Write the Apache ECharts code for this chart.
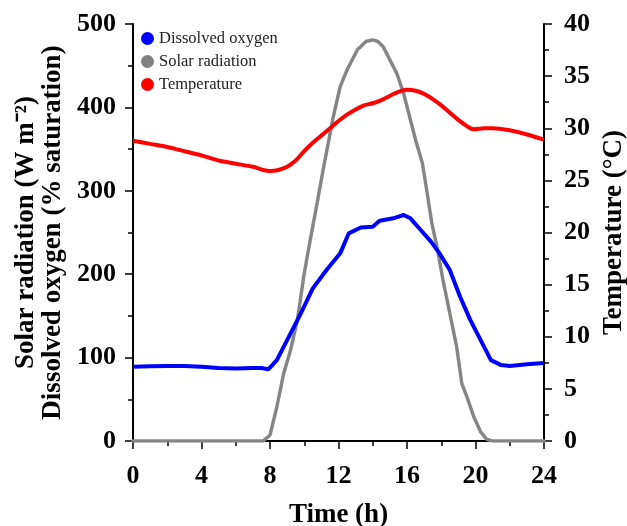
<!DOCTYPE html>
<html>
<head>
<meta charset="utf-8">
<script src="https://cdn.jsdelivr.net/npm/echarts@6/dist/echarts.min.js"></script>
<style>
  html, body { margin: 0; padding: 0; background: #fff; }
  #chart { width: 627px; height: 526px; }
</style>
</head>
<body>
<div id="chart"></div>
<script>
// values
const doTime = [0, 1, 2, 3, 4, 5, 6, 7, 7.5, 7.9, 8.4, 9, 9.8, 10.5, 11.3, 12.1, 12.6, 13.3, 14, 14.4, 15.2, 15.8, 16.2, 16.8, 17.4, 17.9, 18.5, 19.1, 19.7, 20.3, 20.9, 21.5, 22, 23, 24];
const doValues = [89, 89.5, 90, 90, 89, 87.5, 87, 87.5, 87.5, 86, 97, 121, 153, 183, 205, 225, 249, 256, 257, 264, 267, 271, 267, 253, 239, 225, 205, 173, 145, 121, 97, 91, 90, 92, 93.5];

const solarTime = [0, 4, 7.6, 8.0, 8.4, 8.8, 9.2, 9.6, 10.0, 10.35, 10.75, 11.1, 11.4, 11.7, 12.1, 12.5, 13.1, 13.6, 14.0, 14.3, 14.6, 15.0, 15.4, 15.8, 16.2, 16.5, 16.9, 17.15, 17.45, 17.75, 18.1, 18.5, 18.9, 19.2, 19.5, 19.9, 20.3, 20.65, 21, 24];
const solarValues = [0, 0, 0, 7, 41, 81, 109, 145, 201, 241, 285, 325, 357, 389, 425, 445, 469, 479, 481, 479, 473, 457, 441, 417, 385, 361, 333, 301, 261, 233, 193, 153, 113, 69, 53, 29, 11, 2, 0, 0];

const tempTime = [0, 1, 2, 3, 4, 5, 6, 7, 7.6, 8, 8.5, 9, 9.5, 10, 10.5, 11, 11.5, 12, 12.5, 13, 13.5, 14, 14.5, 15, 15.5, 16, 16.5, 17, 17.5, 18, 18.5, 19, 19.5, 19.9, 20.5, 21, 22, 23, 24];
const tempValues = [28.8, 28.5, 28.2, 27.8, 27.4, 26.9, 26.6, 26.3, 26.0, 25.9, 26.0, 26.3, 26.9, 27.8, 28.6, 29.3, 30.0, 30.7, 31.3, 31.8, 32.2, 32.4, 32.7, 33.1, 33.5, 33.7, 33.6, 33.3, 32.8, 32.2, 31.5, 30.8, 30.2, 29.9, 30.0, 30.0, 29.8, 29.4, 28.9];

const seriesNames = ['Dissolved oxygen', 'Solar radiation', 'Temperature'];

function pairs(xs, ys) {
    return xs.map((x, i) => [x, ys[i]]);
}

const FONT = '"Liberation Serif", "Times New Roman", serif';
const black = '#000';

const axisBase = {
    axisLine: { show: true, lineStyle: { color: black, width: 2 } },
    axisTick: { show: true, inside: false, length: 8, lineStyle: { color: black, width: 1.5 } },
    minorTick: { show: true, splitNumber: 2, length: 5, lineStyle: { color: black, width: 1.5 } },
    splitLine: { show: false },
    axisLabel: { color: black, fontFamily: FONT, fontWeight: 'bold', fontSize: 26 },
    nameTextStyle: { color: black, fontFamily: FONT, fontWeight: 'bold', fontSize: 27 }
};

const chart = echarts.init(document.getElementById('chart'), null, { renderer: 'canvas' });

const option = {
    animation: false,
    backgroundColor: '#fff',
    grid: { left: 133, right: 83, top: 24, bottom: 85, containLabel: false, outerBoundsMode: 'none' },
    legend: {
        data: seriesNames,
        orient: 'vertical',
        left: 136,
        top: 25,
        icon: 'circle',
        itemWidth: 13,
        itemHeight: 13,
        itemGap: 6,
        textStyle: { color: '#222', fontFamily: FONT, fontSize: 16.5 }
    },
    xAxis: Object.assign({}, axisBase, {
        type: 'value',
        min: 0, max: 24, interval: 4,
        name: 'Time (h)',
        nameLocation: 'middle',
        nameGap: 61,
        axisLabel: Object.assign({}, axisBase.axisLabel, { margin: 22 })
    }),
    yAxis: [
        Object.assign({}, axisBase, {
            type: 'value',
            min: 0, max: 500, interval: 100,
            position: 'left',
            name: 'Solar radiation (W m\u207B\u00B2)\nDissolved oxygen (% saturation)',
            nameLocation: 'middle',
            nameGap: 63,
            nameTextStyle: Object.assign({}, axisBase.nameTextStyle, { lineHeight: 27 }),
            axisLabel: Object.assign({}, axisBase.axisLabel, { margin: 17 })
        }),
        Object.assign({}, axisBase, {
            type: 'value',
            min: 0, max: 40, interval: 5,
            position: 'right',
            name: 'Temperature (\u00B0C)',
            nameLocation: 'middle',
            nameGap: 56,
            axisLabel: Object.assign({}, axisBase.axisLabel, { margin: 20 })
        })
    ],
    series: [
        {
            name: 'Solar radiation',
            type: 'line',
            yAxisIndex: 0,
            data: pairs(solarTime, solarValues),
            showSymbol: false,
            color: '#808080',
            lineStyle: { width: 3.5, color: '#858585', type: [2.5, 1], cap: 'round' },
            z: 2
        },
        {
            name: 'Dissolved oxygen',
            type: 'line',
            yAxisIndex: 0,
            data: pairs(doTime, doValues),
            showSymbol: false,
            color: '#0000ff',
            lineStyle: { width: 4, color: '#0000ff' },
            z: 3
        },
        {
            name: 'Temperature',
            type: 'line',
            yAxisIndex: 1,
            data: pairs(tempTime, tempValues),
            showSymbol: false,
            smooth: 0.3,
            color: '#ff0000',
            lineStyle: { width: 4, color: '#ff0000' },
            z: 4
        }
    ]
};

chart.setOption(option);
window.addEventListener('resize', chart.resize);
</script>
</body>
</html>
